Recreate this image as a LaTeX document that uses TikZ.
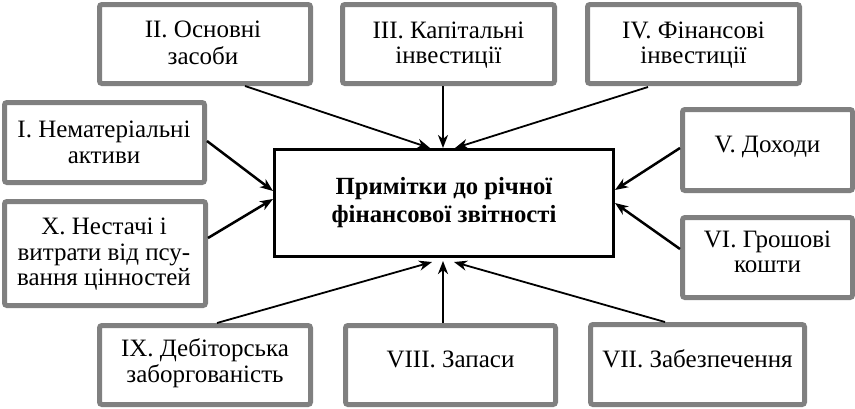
\documentclass[tikz,border=0pt]{standalone}
\usepackage{fontspec}
\setmainfont{Liberation Serif}
\usetikzlibrary{arrows.meta,calc}
\newcommand\boxfont{\fontsize{25}{25.5}\selectfont}
\newcommand\mainfont{\fontsize{24.7}{28}\selectfont\bfseries}
\begin{document}
\begin{tikzpicture}[x=1pt,y=-1pt,
  graybox/.style={draw=black!50, line width=5pt, rounded corners=2.5pt, fill=white,
    minimum width=#1, inner sep=0pt},
  mainbox/.style={draw=black, line width=3pt, fill=white, inner sep=0pt,
    minimum width=339pt, minimum height=107pt},
  boxtext/.style={font=\boxfont, align=center, inner sep=0pt},
  thickarr/.style={line width=2.5pt, -{Stealth[length=13pt,width=10pt,inset=4pt]}},
  thinarr/.style={line width=1.8pt, -{Stealth[length=13pt,width=10pt,inset=4pt]}}
]
\useasboundingbox[fill=white] (0,0) rectangle (855,408);
% boxes
\node[graybox=211pt, minimum height=79pt] (b2) at (205,44) {};
\node[graybox=212pt, minimum height=79pt] (b3) at (448.5,44) {};
\node[graybox=212pt, minimum height=79pt] (b4) at (693.5,44) {};
\node[graybox=200pt, minimum height=80pt] (b1) at (104.5,142.5) {};
\node[graybox=170pt, minimum height=81pt] (b5) at (767.5,150) {};
\node[graybox=201pt, minimum height=104pt] (b10) at (105,253.5) {};
\node[graybox=170pt, minimum height=80pt] (b6) at (767.5,257.5) {};
\node[graybox=211pt, minimum height=79pt] (b9) at (205,365) {};
\node[graybox=210pt, minimum height=79pt] (b8) at (450.5,365) {};
\node[graybox=214pt, minimum height=80pt] (b7) at (697.5,364.5) {};
\node[mainbox] (c) at (444,203) {};
% texts
\node[boxtext] (t2) at (203,46) {\strut II. Основні\\\strut засоби};
\node[boxtext] (t3) at (448.5,46) {\strut III. Капітальні\\\strut інвестиції};
\node[boxtext] (t4) at (693.5,46) {\strut IV. Фінансові\\\strut інвестиції};
\node[boxtext] (t1) at (104,145.5) {\strut I. Нематеріальні\\\strut активи};
\node[boxtext] (t5) at (767.5,147) {\strut V. Доходи};
\node[boxtext] (t10) at (104,255) {\strut X. Нестачі і\\витрати від псу-\\\strut вання цінностей};
\node[boxtext] (t6) at (767.5,255) {\strut VI. Грошові\\\strut кошти};
\node[boxtext] (t9) at (205,364.5) {\strut IX. Дебіторська\\\strut заборгованість};
\node[boxtext] (t8) at (450.5,362) {\strut VIII. Запаси};
\node[boxtext] (t7) at (697.5,362) {\strut VII. Забезпечення};
\node[font=\mainfont, align=center, inner sep=0pt] (tc) at (444,202.5)
  {\strut Примітки до річної\\\strut фінансової звітності};
% arrows
\draw[thinarr] ($(b2.south)+(40,0)$) -- ($(c.north)+(-14,0)$);
\draw[thickarr] ($(b3.south)+(-5.5,0)$) -- ($(c.north)+(-1,0)$);
\draw[thinarr] ($(b4.south)+(-45.5,1)$) -- ($(c.north)+(11,0)$);
\draw[thickarr] ($(b1.east)+(0,-1.5)$) -- ($(c.west)+(0,-12)$);
\draw[thickarr] ($(b10.east)+(0,-15.5)$) -- ($(c.west)+(0,-4)$);
\draw[thickarr] ($(b5.west)+(0,-2)$) -- ($(c.east)+(0,-13)$);
\draw[thickarr] ($(b6.west)+(0,-8.5)$) -- ($(c.east)+(0,0)$);
\draw[thinarr] ($(b9.north)+(12,0)$) -- ($(c.south)+(-12,4)$);
\draw[thickarr] ($(b8.north)+(-7.5,0)$) -- ($(c.south)+(-1,3)$);
\draw[thinarr] ($(b7.north)+(-32.5,0)$) -- ($(c.south)+(10,4)$);
\end{tikzpicture}
\end{document}
